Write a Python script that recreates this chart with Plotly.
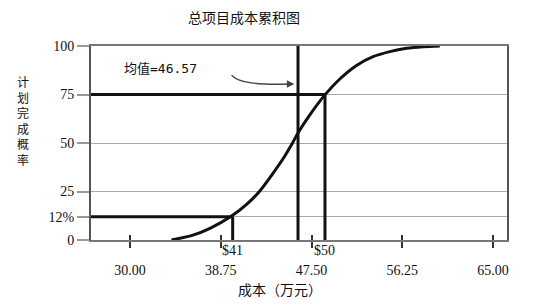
import plotly.graph_objects as go

# ---- data ----
cost = [34.0, 36.07, 37.71, 39.83, 41.27, 42.52, 43.78, 44.93, 45.6, 46.18, 47.34, 48.79,
        50.23, 51.84, 53.44, 55.05, 56.66, 58.26, 59.87]
prob = [0, 2.5, 6, 12.5, 18.5, 25.3, 34.3, 43.3, 49.3, 55, 64.5, 74.8,
        83, 90, 94.5, 97.1, 98.8, 99.6, 100]

x_tickvals = [30.00, 38.75, 47.50, 56.25, 65.00]
x_ticktext = ["30.00", "38.75", "47.50", "56.25", "65.00"]
y_tickvals = [0, 12, 25, 50, 75, 100]
y_ticktext = ["0", "12%", "25", "50", "75", "100"]

cost_low, prob_low = 39.9, 12      # $41 marker
cost_high, prob_high = 48.8, 75    # $50 marker
mean_cost = 46.2                   # mean line position
mean_label = "均值=46.57"
low_label, high_label = "$41", "$50"

title = "总项目成本累积图"
x_title = "成本（万元）"
y_title = "计划完成概率"

X_MIN, X_MAX = 26.24, 66.35

BLACK = "#111111"
serif = "Liberation Serif, Times New Roman, serif"
cjk = "Noto Sans CJK SC, sans-serif"

fig = go.Figure()

# horizontal guide lines
fig.add_trace(go.Scatter(x=[X_MIN, cost_high], y=[prob_high, prob_high], mode="lines",
                         line=dict(color=BLACK, width=3), hoverinfo="skip"))
fig.add_trace(go.Scatter(x=[X_MIN, cost_low], y=[prob_low, prob_low], mode="lines",
                         line=dict(color=BLACK, width=3), hoverinfo="skip"))
# vertical guide lines
fig.add_trace(go.Scatter(x=[cost_low, cost_low], y=[0, prob_low], mode="lines",
                         line=dict(color=BLACK, width=3), hoverinfo="skip"))
fig.add_trace(go.Scatter(x=[cost_high, cost_high], y=[0, prob_high], mode="lines",
                         line=dict(color=BLACK, width=3), hoverinfo="skip"))
fig.add_trace(go.Scatter(x=[mean_cost, mean_cost], y=[0, 100], mode="lines",
                         line=dict(color=BLACK, width=3), hoverinfo="skip"))
# cumulative S-curve
fig.add_trace(go.Scatter(x=cost, y=prob, mode="lines",
                         line=dict(color=BLACK, width=3, shape="spline", smoothing=0.8),
                         hoverinfo="skip"))

# curved arrow toward mean line
fig.add_shape(type="path", xref="x", yref="y",
              path="M 39.8,85 Q 40.6,79.5 45.4,80.4",
              line=dict(color="#444444", width=1.5))
fig.add_annotation(x=45.85, y=80.4, xref="x", yref="y", ax=-8, ay=0,
                   showarrow=True, arrowhead=2, arrowsize=1, arrowwidth=1.5,
                   arrowcolor="#444444", text="")

fig.add_annotation(x=29.2, y=88.5, xref="x", yref="y", text=mean_label, showarrow=False,
                   xanchor="left", yanchor="middle",
                   font=dict(family="DejaVu Sans Mono, Noto Sans CJK SC, monospace", size=13, color=BLACK))

# $41 / $50 labels under the lines
for xv, t in [(cost_low, low_label), (cost_high, high_label)]:
    fig.add_annotation(x=xv, y=0, xref="x", yref="paper", text=t, showarrow=False,
                       xanchor="center", yanchor="middle", yshift=-10,
                       font=dict(family=serif, size=14, color=BLACK))

# title
fig.add_annotation(x=(244 - 91) / 416, y=(240 - 17) / 194, xref="paper", yref="paper",
                   text=title, showarrow=False, xanchor="center", yanchor="middle",
                   font=dict(family=cjk, size=14, color=BLACK))
# x title
fig.add_annotation(x=(280 - 91) / 416, y=(240 - 289) / 194, xref="paper", yref="paper",
                   text=x_title, showarrow=False, xanchor="center", yanchor="middle",
                   font=dict(family=cjk, size=14, color=BLACK))
# vertical (stacked) y title
fig.add_annotation(x=(23 - 91) / 416, y=(240 - 120) / 194, xref="paper", yref="paper",
                   text="<br>".join(y_title), showarrow=False, xanchor="center", yanchor="middle",
                   font=dict(family=cjk, size=12, color=BLACK))

fig.update_layout(
    width=541, height=308,
    margin=dict(l=91, r=34, t=46, b=68),
    paper_bgcolor="white", plot_bgcolor="white",
    showlegend=False,
    xaxis=dict(range=[X_MIN, X_MAX], tickvals=x_tickvals, ticktext=x_ticktext,
               ticks="outside", ticklen=6, tickwidth=1.5, tickcolor="#333333",
               ticklabelstandoff=10,
               showgrid=False, zeroline=False, showline=True, linecolor="#777777", linewidth=1.5,
               mirror=True, tickfont=dict(family=serif, size=14, color=BLACK)),
    xaxis2=dict(range=[X_MIN, X_MAX], overlaying="x", matches="x", side="bottom",
                tickvals=x_tickvals, ticks="inside", ticklen=5, tickwidth=1.5, tickcolor="#333333",
                showticklabels=False, showgrid=False, zeroline=False, showline=False),
    yaxis=dict(range=[0, 100], tickvals=y_tickvals, ticktext=y_ticktext,
               ticks="outside", ticklen=12, tickwidth=1.5, tickcolor="#999999",
               showgrid=True, gridcolor="#aaaaaa", gridwidth=1,
               zeroline=False, showline=True, linecolor="#555555", linewidth=2, mirror=True,
               tickfont=dict(family=serif, size=14, color=BLACK)),
)
# invisible trace so the overlay axis (inner tick marks) is drawn
fig.add_trace(go.Scatter(x=[30], y=[0], xaxis="x2", mode="markers",
                         marker=dict(opacity=0), hoverinfo="skip"))

fig.write_html("out.html")
